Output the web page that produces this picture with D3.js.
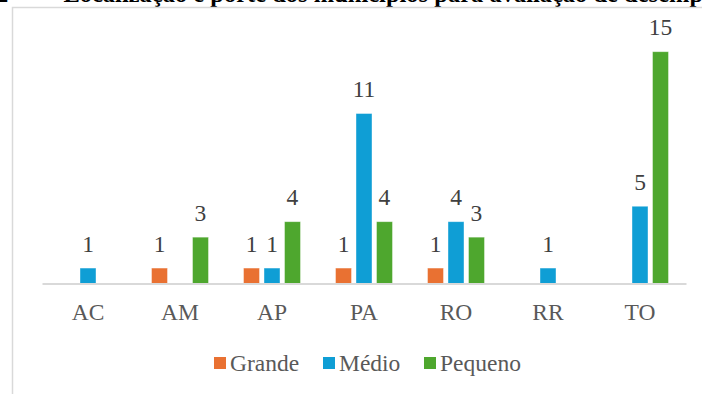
<!DOCTYPE html>
<html>
<head>
<meta charset="utf-8">
<script src="https://cdn.jsdelivr.net/npm/d3@7"></script>
<style>
  body { margin: 0; background: #fff; }
  svg { display: block; font-family: "Liberation Serif", "Times New Roman", serif; }
</style>
</head>
<body>
<div id="chart"></div>
<script>
// data
const categories = ["AC", "AM", "AP", "PA", "RO", "RR", "TO"];
const seriesNames = ["Grande", "Médio", "Pequeno"];
const grande  = [0, 1, 1, 1, 1, 0, 0];
const medio   = [1, 0, 1, 11, 4, 1, 5];
const pequeno = [0, 3, 4, 4, 3, 0, 15];
const colors = ["#E97132", "#0F9ED5", "#4EA72E"];
const titleNum = "2";
const titleRest = "– Localização e porte dos municípios para avaliação de desempenho";

const width = 702, height = 394;

const svg = d3.select("#chart").append("svg")
    .attr("width", width)
    .attr("height", height);

// caption line above the chart, cut off by the top of the picture
const cap = svg.append("g").attr("font-size", 24.5).attr("font-weight", "bold").attr("fill", "#000");
cap.append("text").attr("x", -4).attr("y", 2).text(titleNum);
cap.append("text").attr("x", 45).attr("y", 2).text(titleRest);

// chart frame (left and top edges visible)
svg.append("path")
    .attr("d", "M12.5,400V7.5H710")
    .attr("fill", "none")
    .attr("stroke", "#d9d9d9")
    .attr("stroke-width", 1.5);

const rows = categories.map((c, i) => ({
    cat: c,
    values: [grande[i], medio[i], pequeno[i]]
}));

const x0 = d3.scaleBand().domain(categories).range([42, 686]);
const x1 = d3.scaleBand().domain(seriesNames).range([0, x0.bandwidth()])
    .paddingInner(0.22).paddingOuter(0.854);
const y = d3.scaleLinear().domain([0, 15]).range([283.5, 51.7]);

const groups = svg.append("g").selectAll("g")
    .data(rows)
    .join("g")
    .attr("transform", d => `translate(${x0(d.cat)},0)`);

const cells = groups.selectAll("g")
    .data(d => d.values.map((v, k) => ({ name: seriesNames[k], k, v })).filter(e => e.v > 0))
    .join("g");

cells.append("rect")
    .attr("x", d => x1(d.name))
    .attr("y", d => y(d.v))
    .attr("width", x1.bandwidth())
    .attr("height", d => y(0) - y(d.v))
    .attr("fill", d => colors[d.k])
    .attr("stroke", "#ffffff")
    .attr("stroke-opacity", 0.5)
    .attr("stroke-width", 0.8);

cells.append("text")
    .attr("x", d => x1(d.name) + x1.bandwidth() / 2)
    .attr("y", d => y(d.v) - 16.5)
    .attr("text-anchor", "middle")
    .attr("font-size", 23.5)
    .attr("fill", "#404040")
    .text(d => d.v);

// category axis
const xAxis = svg.append("g")
    .attr("transform", `translate(0,${y(0)})`)
    .call(d3.axisBottom(x0).tickSize(0).tickPadding(12));
xAxis.select(".domain")
    .attr("stroke", "#d9d9d9")
    .attr("stroke-width", 2);
xAxis.selectAll("text")
    .attr("font-family", "Liberation Serif, Times New Roman, serif")
    .attr("font-size", 23.5)
    .attr("fill", "#595959")
    .attr("dy", null)
    .attr("y", 36.5);

// legend
const legendX = [214, 323, 424];
const legend = svg.append("g").selectAll("g")
    .data(seriesNames)
    .join("g")
    .attr("transform", (d, i) => `translate(${legendX[i]},357)`);
legend.append("rect")
    .attr("width", 12)
    .attr("height", 12)
    .attr("fill", (d, i) => colors[i]);
legend.append("text")
    .attr("x", 16)
    .attr("y", 14)
    .attr("font-size", 23.5)
    .attr("fill", "#595959")
    .text(d => d);
</script>
</body>
</html>
